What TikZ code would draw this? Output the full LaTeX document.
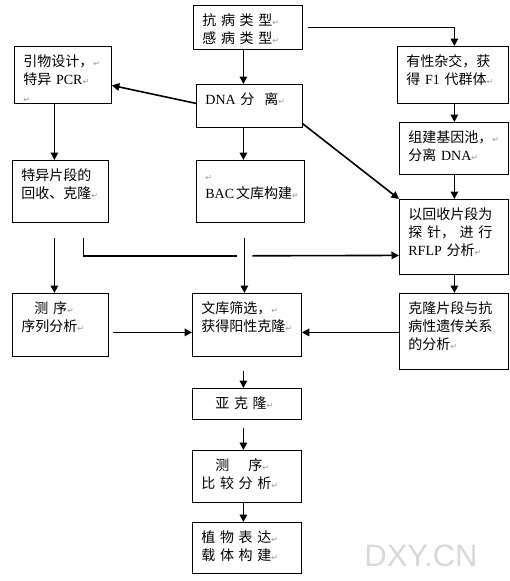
\documentclass[tikz,border=0pt]{standalone}
\usepackage{fontspec}
\usepackage{xcolor}
\usetikzlibrary{arrows.meta}
\newfontfamily\cjk[WordSpace=2.2]{Noto Sans CJK SC}
\newfontfamily\lat{Liberation Serif}
\newfontfamily\sym{DejaVu Sans}
\newfontfamily\wmfont{Liberation Sans}
\newcommand{\en}[1]{{\lat #1}}
\newcommand{\retmark}{{\sym\fontsize{8}{8}\selectfont\color{black!40}↵}}

\begin{document}
\begin{tikzpicture}[x=1pt, y=-1pt,
        stage/.style={draw, line width=0.8pt, anchor=north west, align=left,
            inner xsep=9pt, inner ysep=0pt, text height=20pt,
            font=\cjk\fontsize{14}{18}\selectfont},
        flow/.style={line width=1.6pt, -{Triangle[length=7.5pt,width=7.5pt]}},
        link/.style={line width=1.6pt}]

        % Fix the size of the picture
        \fill[white] (0,0) rectangle (510,581);
        \useasboundingbox (0,0) rectangle (510,581);

        % Add the boxes (text width = width - 18, text depth = height - 20)
        \node[stage, text width=91pt, text depth=24pt] (kb) at (193,5) {抗 病 类 型\retmark\\感 病 类 型\retmark};
        \node[stage, text width=79pt, text depth=37pt] (yw) at (14,46) {引物设计，\retmark\\特异 \en{PCR}\retmark\\\retmark};
        \node[stage, text width=93pt, text depth=37pt] (yx) at (397,46) {有性杂交，获\\得 \en{F1} 代群体\retmark};
        \node[stage, text width=88pt, text depth=23pt] (dna) at (196,84) {\en{DNA} 分\hspace{10pt}离\retmark};
        \node[stage, text width=91pt, text depth=32pt] (zj) at (399,122) {组建基因池，\retmark\\分离 \en{DNA}\retmark};
        \node[stage, text width=78pt, text depth=42pt] (tp) at (12,160) {特异片段的\\回收、克隆\retmark};
        \node[stage, text width=90pt, text depth=42pt] (bac) at (196,160) {\retmark\\\en{BAC}\kern2pt 文库构建\retmark};
        \node[stage, text width=91pt, text depth=55pt] (hs) at (399,199) {以回收片段为\\探 针， 进 行\\\en{RFLP} 分析\retmark};
        \node[stage, text width=78pt, text depth=43pt] (cx) at (12,293) {\hspace*{13pt}测 序\retmark\\序列分析\retmark};
        \node[stage, text width=91pt, text depth=43pt] (wk) at (192,293) {文库筛选，\retmark\\获得阳性克隆\retmark};
        \node[stage, text width=91pt, text depth=56pt] (kl) at (399,293) {克隆片段与抗\\病性遗传关系\\的分析\retmark};
        \node[stage, text width=91pt, text depth=11pt] (yk) at (192,388) {\hspace*{14pt}亚 克 隆\retmark};
        \node[stage, text width=91pt, text depth=32pt] (bj) at (192,450) {\hspace*{14pt}测\hspace{19pt}序\retmark\\比 较 分 析\retmark};
        \node[stage, text width=91pt, text depth=31pt] (zw) at (192,522) {植 物 表 达\retmark\\载 体 构 建\retmark};

        % Add the arrows
        \draw[flow] ([xshift=-4.5pt]kb.south) -- ([xshift=-6pt]dna.north);
        \draw[flow] ([xshift=5pt]kb.east) -| ([xshift=1.5pt]yx.north);
        \draw[flow] ([yshift=2.5pt]dna.west) -- ([yshift=-10.5pt]yw.east);
        \draw[flow] ([yshift=4pt]dna.south east) -- (hs.north west);
        \draw[flow] ([xshift=-6pt]dna.south) -- ([xshift=-7pt]bac.north);
        \draw[flow] ([xshift=1.5pt]yx.south) -- ([xshift=0.5pt]zj.north);
        \draw[flow] ([xshift=0.5pt]zj.south) -- ([xshift=0.5pt]hs.north);
        \draw[flow] ([xshift=-8.5pt]yw.south) -- ([xshift=-6pt]tp.north);
        \draw[flow] ([xshift=-6pt,yshift=-15pt]tp.south) -- ([xshift=-6pt]cx.north);
        \draw[link] ([xshift=23pt,yshift=-15pt]tp.south) |- ([xshift=-13pt,yshift=-33pt]bac.south);
        \draw[flow] ([xshift=2pt,yshift=-33pt]bac.south) -- ([yshift=-18.5pt]hs.west);
        \draw[flow] ([xshift=-6pt,yshift=-15pt]bac.south) -- ([xshift=-2.5pt]wk.north);
        \draw[flow] ([xshift=4pt,yshift=-7.5pt]cx.east) -- ([yshift=-7.5pt]wk.west);
        \draw[flow] ([yshift=-1pt]kl.west) -- ([yshift=-7.5pt]wk.east);
        \draw[flow] ([xshift=0.5pt]hs.south) -- ([xshift=0.5pt]kl.north);
        \draw[flow] ([xshift=-3.5pt,yshift=-14pt]wk.south) -- ([xshift=-3.5pt]yk.north);
        \draw[flow] ([xshift=-3.5pt,yshift=-8pt]yk.south) -- ([xshift=-3.5pt]bj.north);
        \draw[flow] ([xshift=-3.5pt]bj.south) -- ([xshift=-3.5pt]zw.north);

        % Add the watermark
        \node[font=\wmfont\fontsize{31}{31}\selectfont, text=black!15] (wmark) at (421,556) {DXY.CN};
    \end{tikzpicture}
\end{document}
